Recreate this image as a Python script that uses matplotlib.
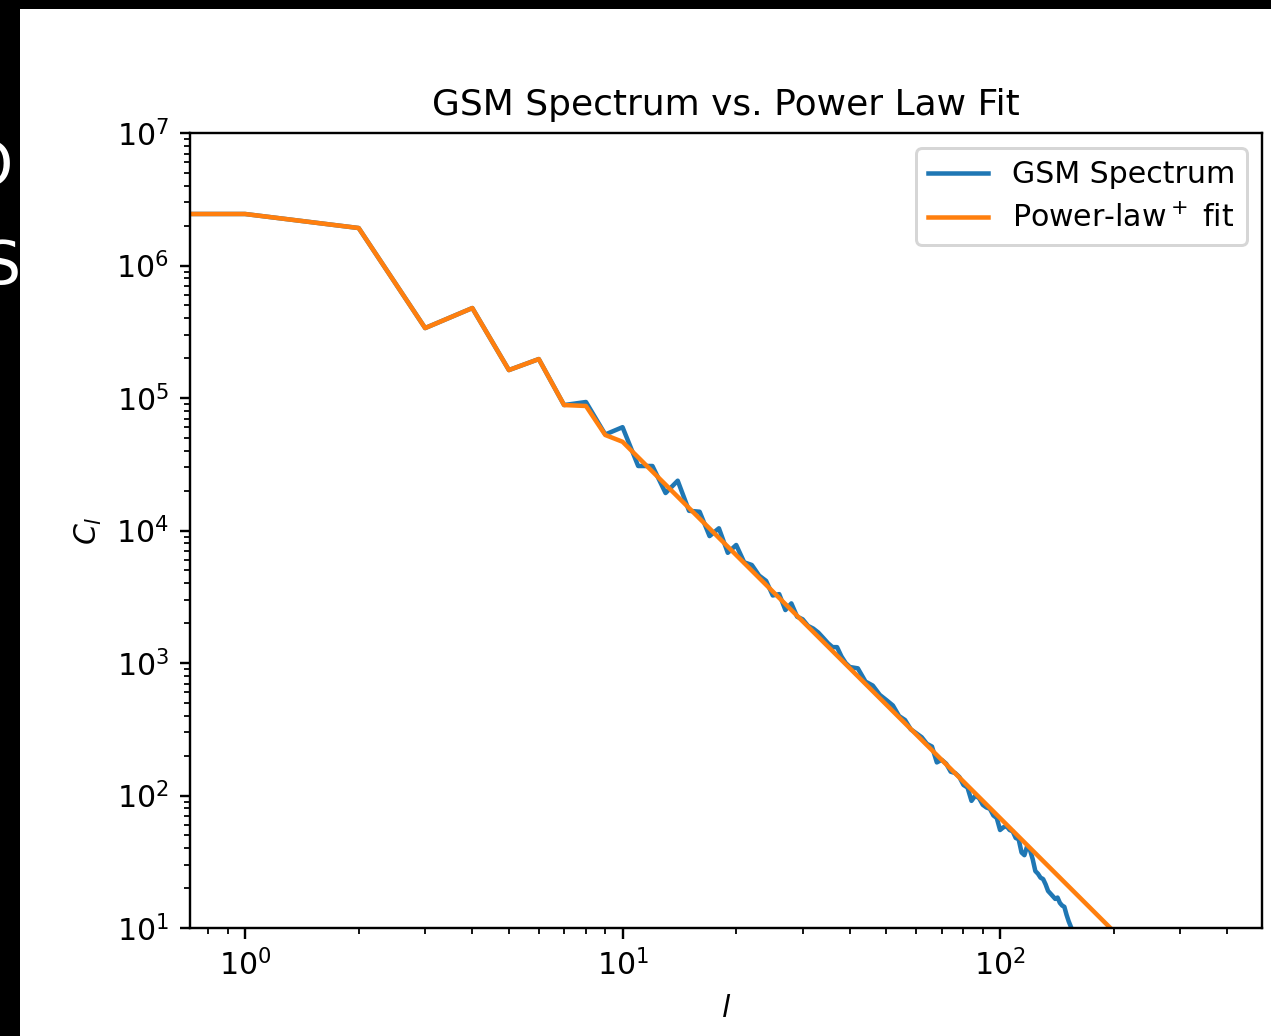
import numpy as np
import matplotlib
matplotlib.use("Agg")
import matplotlib.pyplot as plt
from matplotlib.patches import Rectangle

# GSM angular power spectrum (log10 C_l)
gsm_l = list(range(0, 41)) + list(range(42, 162, 2))
gsm_log10_cl = [
    6.39, 6.389, 6.283, 5.528, 5.679, 5.211, 5.294, 4.947, 4.97, 4.725,
    4.78, 4.487, 4.487, 4.283, 4.376, 4.149, 4.142, 3.958, 4.017, 3.832,
    3.891, 3.76, 3.74, 3.66, 3.62, 3.51, 3.52, 3.40, 3.45, 3.35,
    3.33, 3.28, 3.26, 3.23, 3.19, 3.15, 3.12, 3.12, 3.05, 3.00,
    2.97,
    2.96, 2.86, 2.83, 2.76, 2.72, 2.68, 2.60, 2.57, 2.50, 2.47,
    2.44, 2.39, 2.37, 2.25, 2.27, 2.24, 2.18, 2.17, 2.14, 2.08,
    2.06, 1.96, 2.00, 1.98, 1.93, 1.91, 1.90, 1.85, 1.83, 1.74,
    1.76, 1.77, 1.74, 1.73, 1.68, 1.67, 1.57, 1.55, 1.62, 1.59,
    1.52, 1.43, 1.41, 1.38, 1.37, 1.33, 1.28, 1.26, 1.24, 1.22,
    1.23, 1.19, 1.17, 1.16, 1.10, 1.05, 1.01, 0.97, 0.93, 0.90,
]

# power-law+ fit: data at low l, straight power law from l=10 on
fit_l = [0, 1, 2, 3, 4, 5, 6, 7, 8, 9, 10, 20, 50, 100, 200]
fit_log10_cl = [6.39, 6.389, 6.283, 5.528, 5.679, 5.211, 5.294, 4.947, 4.94, 4.721,
                4.67, 3.815, 2.685, 1.83, 0.975]

gsm_cl = 10 ** np.array(gsm_log10_cl)
fit_cl = 10 ** np.array(fit_log10_cl)

DPI = 216
fig = plt.figure(figsize=(1271 / DPI, 1036 / DPI), dpi=DPI)
ax = fig.add_axes([0.1495, 0.1042, 0.8434, 0.7674])

ax.plot(gsm_l, gsm_cl, color='#1f77b4', lw=1.5, label='GSM Spectrum')
ax.plot(fit_l, fit_cl, color='#ff7f0e', lw=1.5, label=r'Power-law$^+$ fit')
ax.set_xscale('log')
ax.set_yscale('log')
ax.set_xlim(0.715, 494)
ax.set_ylim(1e1, 1e7)
ax.set_xlabel(r'$l$')
ax.set_ylabel(r'$C_l$')
ax.set_title('GSM Spectrum vs. Power Law Fit')
ax.legend(loc='upper right')

# screenshot border
fig.patches.append(Rectangle((0, 0), 20 / 1271, 1, transform=fig.transFigure,
                             facecolor='black', edgecolor='none', zorder=5))
fig.patches.append(Rectangle((0, 1 - 9 / 1036), 1, 9 / 1036, transform=fig.transFigure,
                             facecolor='black', edgecolor='none', zorder=5))
fig.text(13 / 1271, 1 - 168 / 1036, 'O', color='white', fontsize=20,
         ha='right', va='center', zorder=6)
fig.text(21 / 1271, 1 - 268 / 1036, 'S', color='white', fontsize=20,
         ha='right', va='center', zorder=6)

fig.savefig('out.png', dpi=DPI)
